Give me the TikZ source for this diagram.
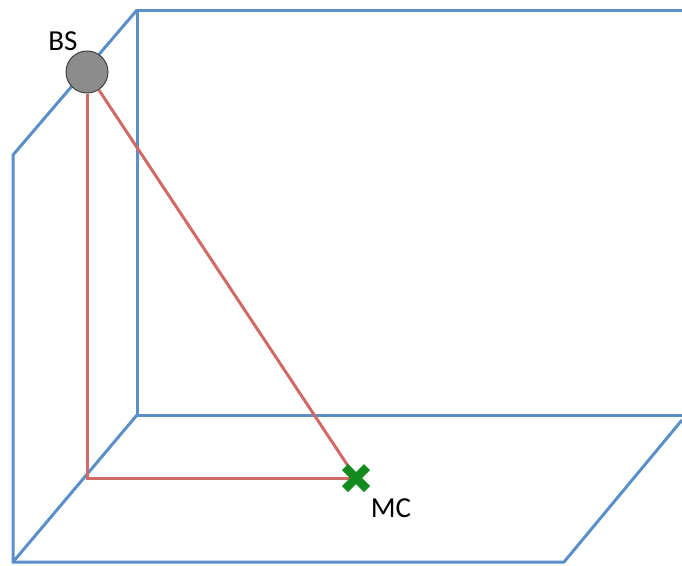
\documentclass[tikz,border=0pt]{standalone}
\usepackage{fontspec}
\setmainfont{Carlito}
\usetikzlibrary{calc}
\definecolor{wallblue}{HTML}{5B8FC9}
\definecolor{rayred}{HTML}{D06A66}
\definecolor{mcgreen}{HTML}{138A1E}
\begin{document}
\begin{tikzpicture}[x=1pt,y=-1pt,
  wall/.style={draw=wallblue,line width=3pt,line join=miter},
  ray/.style={draw=rayred,line width=3pt},
  lbl/.style={font=\fontsize{29}{34}\selectfont,inner sep=0pt}]
\useasboundingbox (0,0) rectangle (682,565);
% coordinates
\coordinate (bt) at (137,10);
\coordinate (btr) at (690,10);
\coordinate (bb) at (137,415);
\coordinate (bbr) at (690,415);
\coordinate (ft) at (13,155);
\coordinate (fb) at (13,562);
\coordinate (fbr) at (564,562);
\coordinate (fr) at (682,420);
\coordinate (corner) at (87,478);
% walls
\draw[wall] (btr) -- (bt) -- (bb) -- (bbr);
\draw[wall] (bt) -- (ft) -- (fb) -- (fbr) -- (fr);
\draw[wall] (fb) -- (bb);
% BS and MC
\node[circle,draw=black!75,fill=black!45,line width=1pt,minimum size=42pt,inner sep=0pt] (bs) at (87,72) {};
\coordinate (mc) at (356,478);
\draw[ray] (bs.south) -- (corner) -- (mc);
\draw[ray] (bs) -- (mc);
\draw[mcgreen,line width=8.5pt] ($(mc)+(-11,-11)$) -- ($(mc)+(11,11)$);
\draw[mcgreen,line width=8.5pt] ($(mc)+(-11,11)$) -- ($(mc)+(11,-11)$);
\node[lbl] (bslbl) at (63,41) {BS};
\node[lbl] (mclbl) at (391,508) {MC};
\end{tikzpicture}
\end{document}
